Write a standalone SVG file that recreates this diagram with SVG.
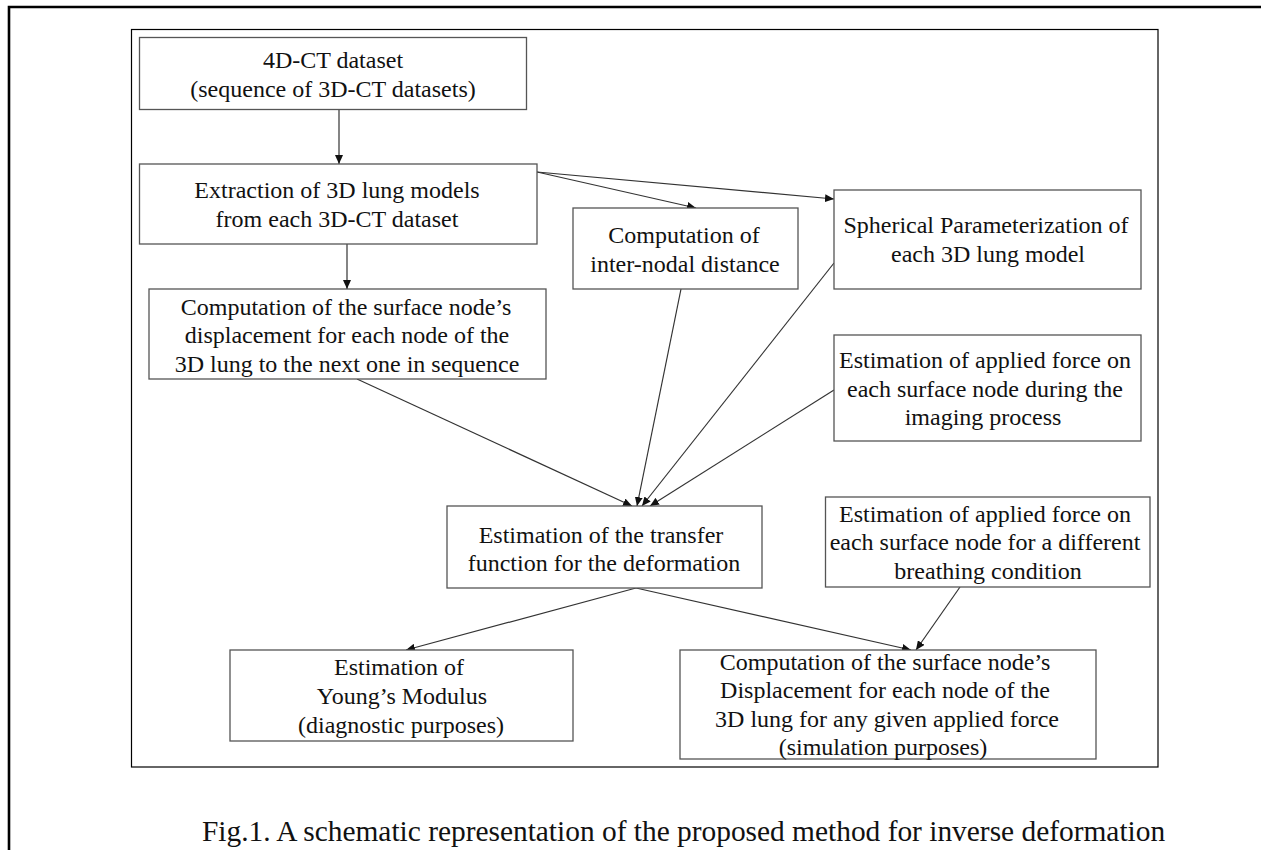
<svg xmlns="http://www.w3.org/2000/svg" width="1261" height="850" viewBox="0 0 1261 850">
<style>
.frame{fill:none;stroke:#000;}
.box{fill:#fff;stroke:#555;stroke-width:1.3;}
.t{font-size:24px;fill:#111;text-anchor:middle;}
.cap{font-size:29.4px;fill:#111;}
.edge{fill:none;stroke:#333;stroke-width:1.2;marker-end:url(#arr);}
</style>
<defs>
<marker id="arr" markerUnits="userSpaceOnUse" markerWidth="10" markerHeight="8" refX="9" refY="4" orient="auto">
<path d="M0,0 L9,4 L0,8 z" fill="#111"/>
</marker>
</defs>
<rect width="1261" height="850" fill="#fff"/>
<path class="frame" d="M9,852 L9,7 L1263,7" stroke-width="2.6"/>
<rect class="frame" x="131.5" y="29.5" width="1026.5" height="737.5" stroke-width="1.2"/>

<g id="connectors">
<line class="edge" x1="339" y1="109" x2="339" y2="164"/>
<line class="edge" x1="347" y1="244" x2="347" y2="289"/>
<line class="edge" x1="537" y1="172" x2="696" y2="208"/>
<line class="edge" x1="537" y1="172" x2="834" y2="199"/>
<line class="edge" x1="357" y1="379" x2="632" y2="506"/>
<line class="edge" x1="681" y1="289" x2="637" y2="506"/>
<line class="edge" x1="834" y1="263" x2="642" y2="506"/>
<line class="edge" x1="834" y1="390" x2="650" y2="506"/>
<line class="edge" x1="636" y1="588" x2="406" y2="650"/>
<line class="edge" x1="636" y1="588" x2="911" y2="650"/>
<line class="edge" x1="960" y1="587" x2="916" y2="650"/>
</g>

<g font-family="Liberation Serif, Tinos, Times New Roman, Times, Nimbus Roman, FreeSerif, serif">
<g id="n1">
<rect class="box" x="139.5" y="37.5" width="387" height="72"/>
<text class="t" x="333" y="68">4D-CT dataset</text>
<text class="t" x="333" y="97">(sequence of 3D-CT datasets)</text>
</g>
<g id="n2">
<rect class="box" x="139.5" y="164" width="397.5" height="80"/>
<text class="t" x="337" y="198">Extraction of 3D lung models</text>
<text class="t" x="337" y="227">from each 3D-CT dataset</text>
</g>
<g id="n3">
<rect class="box" x="149" y="289" width="397" height="90"/>
<text class="t" x="346" y="315">Computation of the surface node’s</text>
<text class="t" x="347" y="343">displacement for each node of the</text>
<text class="t" x="347" y="372">3D lung to the next one in sequence</text>
</g>
<g id="n4">
<rect class="box" x="573" y="208" width="225" height="81"/>
<text class="t" x="684" y="243">Computation of</text>
<text class="t" x="685" y="272">inter-nodal distance</text>
</g>
<g id="n5">
<rect class="box" x="834" y="190" width="307" height="99"/>
<text class="t" x="986" y="233">Spherical Parameterization of</text>
<text class="t" x="988" y="262">each 3D lung model</text>
</g>
<g id="n6">
<rect class="box" x="834" y="335" width="307" height="106"/>
<text class="t" x="985" y="368">Estimation of applied force on</text>
<text class="t" x="985" y="397">each surface node during the</text>
<text class="t" x="983" y="425">imaging process</text>
</g>
<g id="n7">
<rect class="box" x="447" y="506" width="315" height="82"/>
<text class="t" x="601" y="543">Estimation of the transfer</text>
<text class="t" x="604" y="571">function for the deformation</text>
</g>
<g id="n8">
<rect class="box" x="825.5" y="497" width="324.5" height="90"/>
<text class="t" x="985" y="522">Estimation of applied force on</text>
<text class="t" x="985" y="550">each surface node for a different</text>
<text class="t" x="988" y="579">breathing condition</text>
</g>
<g id="n9">
<rect class="box" x="230" y="650" width="343" height="91"/>
<text class="t" x="399" y="675">Estimation of</text>
<text class="t" x="402" y="704">Young’s Modulus</text>
<text class="t" x="401" y="733">(diagnostic purposes)</text>
</g>
<g id="n10">
<rect class="box" x="680" y="650" width="416" height="109"/>
<text class="t" x="885" y="670">Computation of the surface node’s</text>
<text class="t" x="885" y="698">Displacement for each node of the</text>
<text class="t" x="887" y="727">3D lung for any given applied force</text>
<text class="t" x="883" y="755">(simulation purposes)</text>
</g>

<text class="cap" x="202" y="841">Fig.1. A schematic representation of the proposed method for inverse deformation</text>
</g>
</svg>
